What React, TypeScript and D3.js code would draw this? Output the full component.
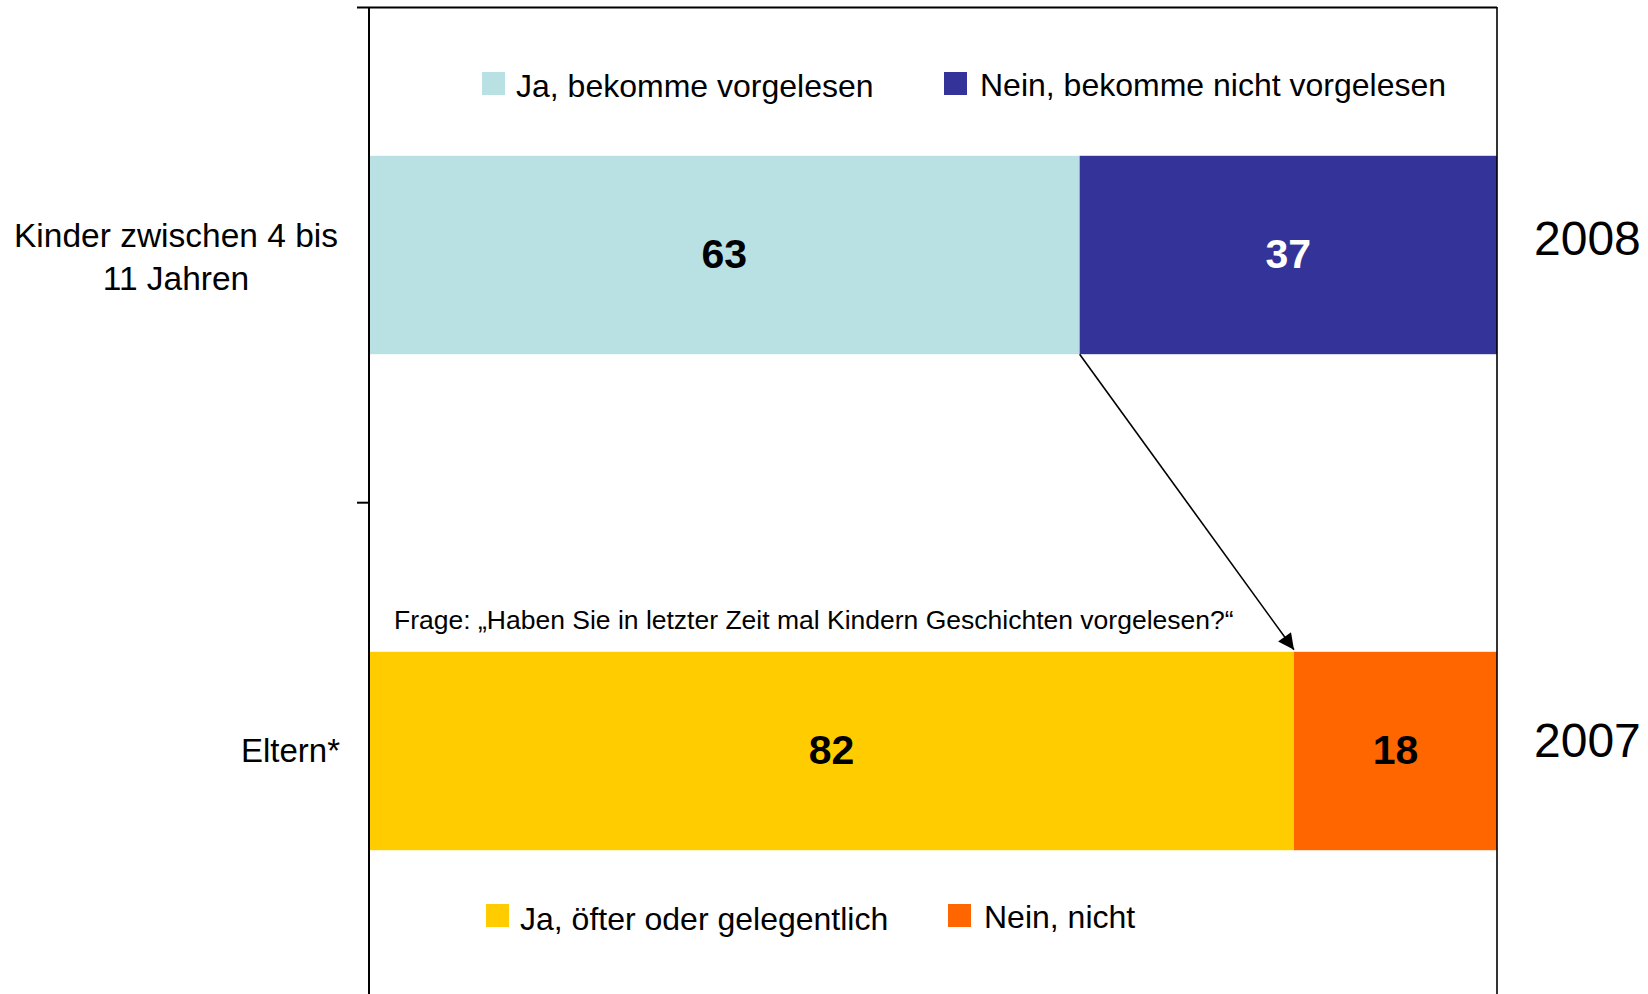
import React from 'react'
import { scaleLinear, scaleBand } from 'd3'

const categories = ['Kinder zwischen 4 bis|11 Jahren', 'Eltern*']
const years = ['2008', '2007']
const yesValues = [63, 82]
const noValues = [37, 18]
const yesNames = ['Ja, bekomme vorgelesen', 'Ja, öfter oder gelegentlich']
const noNames = ['Nein, bekomme nicht vorgelesen', 'Nein, nicht']
const question = 'Frage: „Haben Sie in letzter Zeit mal Kindern Geschichten vorgelesen?“'

const yesColors = ['#B9E0E3', '#FFCC00']
const noColors = ['#343399', '#FF6600']
const noTextColors = ['#ffffff', '#000000']
const yearShift = [0, 6]

const W = 1648
const H = 994
const FONT = 'Liberation Sans, Arial, sans-serif'

export default function App() {
  const x = scaleLinear().domain([0, 100]).range([369, 1497])
  const y = scaleBand<string>()
    .domain(categories)
    .range([7, 999])
    .paddingInner(0.6)
    .paddingOuter(0.3)
  const step = y.step()
  const bw = y.bandwidth()

  const b0 = y(categories[0])!
  const b1 = y(categories[1])!

  return (
    <svg width={W} height={H} style={{ position: 'absolute', left: 0, top: 0, background: '#fff' }}
      fontFamily={FONT}>
      <defs>
        <marker id="arr" viewBox="0 0 10 10" refX="10" refY="5" markerWidth="20" markerHeight="16"
          markerUnits="userSpaceOnUse" orient="auto" >
          <path d="M0,0 L10,5 L0,10 z" fill="#000" />
        </marker>
      </defs>

      {/* bars */}
      {categories.map((c, i) => (
        <g key={c}>
          <rect x={x(0)} y={y(c)} width={x(yesValues[i]) - x(0)} height={bw} fill={yesColors[i]} />
          <rect x={x(yesValues[i])} y={y(c)} width={x(100) - x(yesValues[i])} height={bw} fill={noColors[i]} />
          <text x={(x(0) + x(yesValues[i])) / 2} y={y(c)! + bw / 2 + 13} textAnchor="middle"
            fontSize={41} fontWeight="bold" fill="#000">{yesValues[i]}</text>
          <text x={(x(yesValues[i]) + x(100)) / 2} y={y(c)! + bw / 2 + 13} textAnchor="middle"
            fontSize={41} fontWeight="bold" fill={noTextColors[i]}>{noValues[i]}</text>
          <text x={1534} y={y(c)! + bw / 2 + yearShift[i]} fontSize={48} fill="#000">{years[i]}</text>
        </g>
      ))}

      {/* frame & axis */}
      <line x1={x(0)} x2={x(0)} y1={7} y2={H} stroke="#000" strokeWidth={2} />
      <line x1={357} x2={x(100)} y1={7.5} y2={7.5} stroke="#000" strokeWidth={2} />
      <line x1={x(100)} x2={x(100)} y1={7} y2={H} stroke="#000" strokeWidth={1.6} />
      {categories.map((c, i) => (
        <line key={'t' + i} x1={357} x2={x(0)} y1={7 + step * (i + 1) - 0.3}
          y2={7 + step * (i + 1) - 0.3} stroke="#000" strokeWidth={2} />
      ))}

      {/* category labels */}
      <text fontSize={33.5} textAnchor="middle" fill="#000">
        {categories[0].split('|').map((t, k) => (
          <tspan key={k} x={176} y={b0 + bw / 2 - 8 + k * 43}>{t}</tspan>
        ))}
      </text>
      <text x={340} y={b1 + bw / 2 + 11} fontSize={33} textAnchor="end" fill="#000">{categories[1]}</text>

      {/* arrow */}
      <line x1={x(yesValues[0])} y1={b0 + bw} x2={x(yesValues[1])} y2={b1 - 2}
        stroke="#000" strokeWidth={1.6} markerEnd="url(#arr)" />

      {/* question */}
      <text x={394} y={629} fontSize={26.5} fill="#000">{question}</text>

      {/* top legend */}
      <rect x={482} y={72} width={23} height={23} fill={yesColors[0]} />
      <text x={516} y={97} fontSize={32} fill="#000">{yesNames[0]}</text>
      <rect x={944} y={72} width={23} height={23} fill={noColors[0]} />
      <text x={980} y={96} fontSize={32} fill="#000">{noNames[0]}</text>

      {/* bottom legend */}
      <rect x={486} y={904} width={23} height={23} fill={yesColors[1]} />
      <text x={520} y={930} fontSize={32} fill="#000">{yesNames[1]}</text>
      <rect x={948} y={904} width={23} height={23} fill={noColors[1]} />
      <text x={984} y={928} fontSize={32} fill="#000">{noNames[1]}</text>
    </svg>
  )
}
